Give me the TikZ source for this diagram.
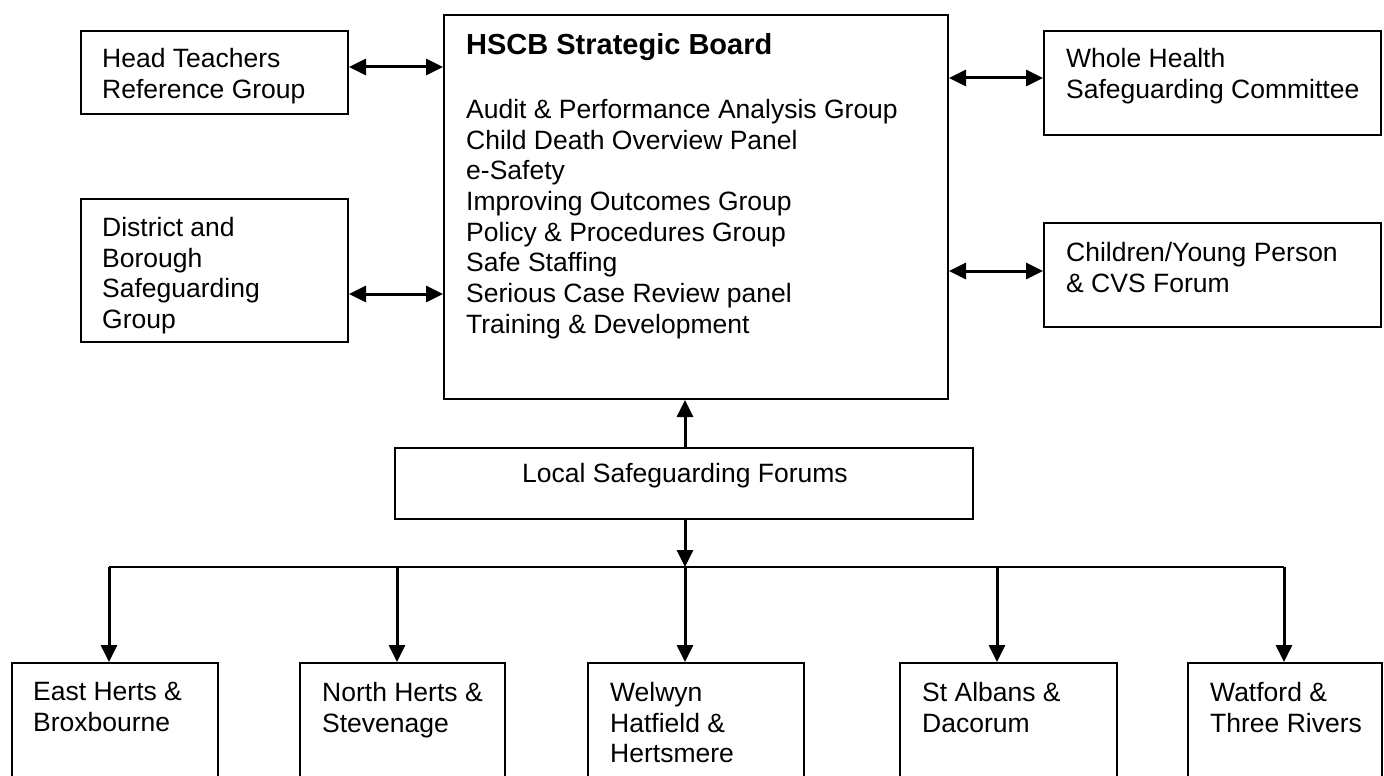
\documentclass[tikz,border=0pt]{standalone}
\usepackage{fontspec}
\setmainfont{Liberation Sans}
\usetikzlibrary{arrows.meta,calc}
\begin{document}
\begin{tikzpicture}[x=1pt,y=-1pt,
  box/.style={draw=black,line width=2pt,rectangle,inner sep=0pt},
  txt/.style={inner sep=0pt,align=left,font=\fontsize{26.5}{30.7}\selectfont},
  ttl/.style={inner sep=0pt,align=left,font=\fontsize{29}{33}\selectfont\bfseries},
  link/.style={line width=3pt,{Triangle[length=17pt,width=16pt]}-{Triangle[length=17pt,width=16pt]}},
  down/.style={line width=3pt,-{Triangle[length=17pt,width=16pt]}},
  branch/.style={line width=2pt}]
\useasboundingbox (0,0) rectangle (1384,776);
\fill[white] (0,0) rectangle (1384,776);
% boxes
\node[box,minimum width=267pt,minimum height=83pt] (ht) at (214.5,72.5) {};
\node[box,minimum width=267pt,minimum height=143pt] (db) at (214.5,270.5) {};
\node[box,minimum width=504pt,minimum height=384pt] (hscb) at (696,207) {};
\node[box,minimum width=337pt,minimum height=104pt] (wh) at (1212.5,83) {};
\node[box,minimum width=337pt,minimum height=104pt] (cyp) at (1212.5,275) {};
\node[box,minimum width=578pt,minimum height=71pt] (lsf) at (684,483.5) {};
\node[box,minimum width=206pt,minimum height=130pt] (eh) at (115,728) {};
\node[box,minimum width=205pt,minimum height=130pt] (nh) at (402.5,728) {};
\node[box,minimum width=216pt,minimum height=130pt] (wel) at (696,728) {};
\node[box,minimum width=217pt,minimum height=130pt] (sa) at (1008.5,728) {};
\node[box,minimum width=194pt,minimum height=130pt] (wt) at (1285,728) {};
% texts
\node[txt,anchor=north west] (htt) at (102,48) {Head Teachers\\Reference Group};
\node[txt,anchor=north west] (dbt) at (102,217) {District and\\Borough\\Safeguarding\\Group};
\node[ttl,anchor=north west] (hscbt) at (466,33) {HSCB Strategic Board};
\node[txt,anchor=north west] (hscbl) at (466,99) {Audit \& Performance Analysis Group\\Child Death Overview Panel\\e-Safety\\Improving Outcomes Group\\Policy \& Procedures Group\\Safe Staffing\\Serious Case Review panel\\Training \& Development};
\node[txt,anchor=north west] (wht) at (1066,48) {Whole Health\\Safeguarding Committee};
\node[txt,anchor=north west] (cypt) at (1066,242) {Children/Young Person\\\& CVS Forum};
\node[txt,anchor=north] (lsft) at (685,463) {Local Safeguarding Forums};
\node[txt,anchor=north west] (eht) at (33,682) {East Herts \&\\Broxbourne};
\node[txt,anchor=north west] (nht) at (322,682) {North Herts \&\\Stevenage};
\node[txt,anchor=north west] (welt) at (610,682) {Welwyn\\Hatfield \&\\Hertsmere};
\node[txt,anchor=north west] (sat) at (922,682) {St Albans \&\\Dacorum};
\node[txt,anchor=north west] (wtt) at (1210,682) {Watford \&\\Three Rivers};
% side links
\draw[link] ([yshift=5.5pt]ht.east) -- ([yshift=5.5pt]ht.east -| hscb.west);
\draw[link] ([yshift=-23.5pt]db.east) -- ([yshift=-23.5pt]db.east -| hscb.west);
\draw[link] ([yshift=5pt]wh.west -| hscb.east) -- ([yshift=5pt]wh.west);
\draw[link] ([yshift=4pt]cyp.west -| hscb.east) -- ([yshift=4pt]cyp.west);
% vertical
\draw[down] ([xshift=1pt]lsf.north) -- ([xshift=1pt]lsf.north |- hscb.south);
\coordinate (bc) at (685,567);
\coordinate (b1) at (109,567);
\coordinate (b2) at (397,567);
\coordinate (b4) at (997,567);
\coordinate (b5) at (1284,567);
\draw[down] ([xshift=1pt]lsf.south) -- (bc);
\draw[branch] (b1) -- (b5);
\draw[down] (b1) -- (b1 |- eh.north);
\draw[down] (b2) -- (b2 |- nh.north);
\draw[down] (bc) -- (bc |- wel.north);
\draw[down] (b4) -- (b4 |- sa.north);
\draw[down] (b5) -- (b5 |- wt.north);
\end{tikzpicture}
\end{document}
